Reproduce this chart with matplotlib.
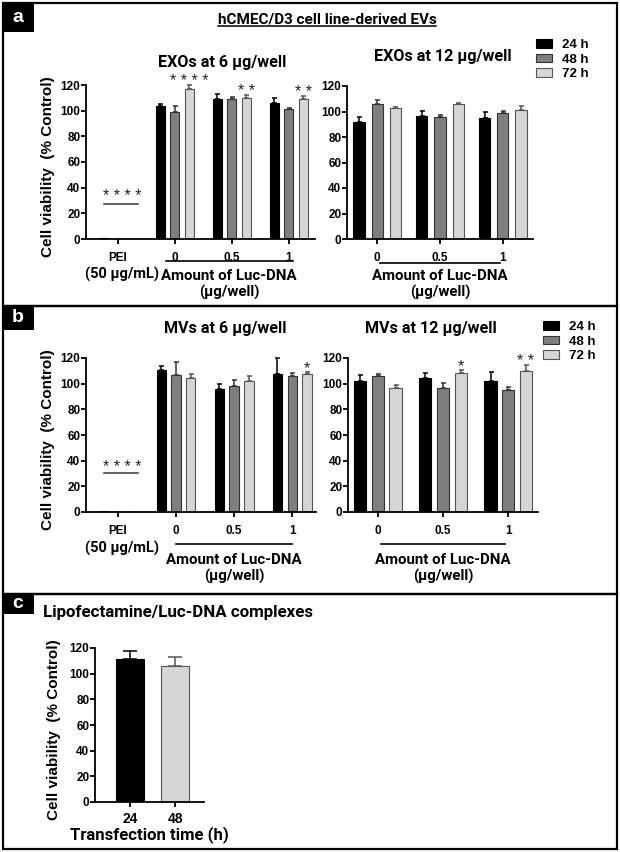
import matplotlib.pyplot as plt
import numpy as np
from matplotlib.patches import Rectangle, Patch
from matplotlib.lines import Line2D

W, H = 620, 852

TIMES = ['24 h', '48 h', '72 h']
DOSE_TICKS = ['0', '0.5', '1']
PEI_TICKS = ['PEI', '0', '0.5', '1']

# rows: 24 h, 48 h, 72 h ; columns: PEI, 0, 0.5, 1 (µg/well Luc-DNA)
exo6_mean = [[1.0, 103.7, 109.4, 105.8], [0.0, 99.2, 109.1, 101.3], [0.0, 116.7, 109.9, 109.4]]
exo6_err = [[0.0, 1.8, 3.9, 4.4], [0.0, 4.7, 1.3, 1.0], [0.0, 3.1, 2.1, 2.0]]
# rows: 24 h, 48 h, 72 h ; columns: 0, 0.5, 1
exo12_mean = [[91.4, 96.6, 95.1], [105.5, 95.6, 99.2], [103.1, 106.0, 101.3]]
exo12_err = [[4.4, 3.9, 4.9], [3.3, 1.8, 1.1], [0.8, 1.0, 3.4]]

mv6_mean = [[1.0, 110.3, 96.1, 107.2], [0.0, 106.7, 98.4, 105.7], [0.0, 104.7, 101.8, 107.8]]
mv6_err = [[0.0, 3.2, 3.6, 13.0], [0.0, 10.2, 4.4, 2.9], [0.0, 3.1, 4.1, 1.2]]
mv12_mean = [[102.0, 104.4, 101.8], [105.7, 96.9, 95.3], [96.6, 108.0, 110.1]]
mv12_err = [[5.0, 3.9, 7.2], [1.8, 3.3, 1.8], [2.3, 2.9, 4.2]]

lipo_times = ['24', '48']
lipo_mean = [111.8, 105.7]
lipo_err = [5.7, 6.9]

# significance marks: (group, series, label)
exo6_stars = [(1, 2, '****'), (2, 2, '**'), (3, 2, '**')]
mv6_stars = [(3, 2, '*')]
mv12_stars = [(1, 2, '*'), (2, 2, '**')]

FILLS = ['black', '#7f7f7f', '#d6d6d6']
EDGES = ['black', '#333333', '#555555']
ARIAL = ['Liberation Sans', 'DejaVu Sans']
CALI = ['Roboto', 'DejaVu Sans']
STAR_COLOR = '#222222'

fig = plt.figure(figsize=(W / 100, H / 100), dpi=100)


def fx(x):
    return x / W


def fy(y):
    return 1 - y / H


def add_axes(x0, y0, x1, y1):
    return fig.add_axes([fx(x0), fy(y1), (x1 - x0) / W, (y1 - y0) / H])


def draw_bars(ax, means, errs, offset, width, cap):
    n = len(means[0])
    for i in range(len(means)):
        x = np.arange(n) + (i - 1) * offset
        m = np.array(means[i])
        e = np.array(errs[i])
        ax.bar(x, m, width, color=FILLS[i], edgecolor=EDGES[i], linewidth=0.8, zorder=2)
        keep = e > 0
        ax.errorbar(x[keep], m[keep], yerr=[np.zeros(keep.sum()), e[keep]], fmt='none',
                    ecolor=EDGES[i], elinewidth=1.1, capsize=cap, capthick=1.1,
                    zorder=1, clip_on=False)


def stars_text(ax, x, y, lab):
    ax.text(x, y, ' '.join(lab), ha='center', va='baseline', fontsize=11.5,
            family=ARIAL, color=STAR_COLOR, clip_on=False)


def add_stars(ax, means, errs, offset, stars):
    for g, s, lab in stars:
        top = means[s][g] + errs[s][g]
        stars_text(ax, g + (s - 1) * offset, top - 0.8, lab)


def style_axes(ax, xlim, labels):
    ax.set_xlim(*xlim)
    ax.set_ylim(0, 120)
    ax.set_yticks(np.arange(0, 121, 20))
    ax.set_xticks(np.arange(len(labels)))
    ax.set_xticklabels(labels)
    for s in ('top', 'right'):
        ax.spines[s].set_visible(False)
    for s in ('left', 'bottom'):
        ax.spines[s].set_linewidth(1.3)
    ax.tick_params(axis='y', length=3.5, width=1.3, pad=0.5)
    ax.tick_params(axis='x', length=3.5, width=1.3, pad=6)
    for lab in ax.get_xticklabels() + ax.get_yticklabels():
        lab.set_family(ARIAL)
        lab.set_weight('bold')
        lab.set_fontsize(8.5)


def ylabel(ax, xpos):
    ax.set_ylabel('Cell viability  (% Control)', family=ARIAL, weight='bold', fontsize=11)
    ax.yaxis.set_label_coords(xpos, 0.47)


def pei_mark(ax, line_y, star_y):
    ax.plot([-0.245, 0.35], [line_y, line_y], color='#444444', lw=1.2, clip_on=False)
    stars_text(ax, 0.07, star_y, '****')


def dose_caption(ax, x0, x1, line_y, text_y):
    tr = ax.get_xaxis_transform()
    ax.plot([x0, x1], [line_y, line_y], color='black', lw=1.2, transform=tr, clip_on=False)
    ax.text((x0 + x1) / 2, text_y, 'Amount of Luc-DNA\n(µg/well)', transform=tr,
            ha='center', va='top', family=CALI, weight='bold', fontsize=10.8,
            linespacing=1.2)


def legend(ax, x, y):
    handles = [Patch(facecolor=FILLS[i], edgecolor=EDGES[i], linewidth=0.8) for i in range(3)]
    ax.legend(handles, TIMES, loc='upper left', bbox_to_anchor=(fx(x), fy(y)),
              bbox_transform=fig.transFigure, frameon=False, borderpad=0, borderaxespad=0,
              handlelength=1.25, handleheight=0.6, handletextpad=0.7, labelspacing=0.2,
              prop=dict(family=ARIAL, weight='bold', size=9.5))


# ---- panel a
ax = add_axes(86, 85, 315, 239)
draw_bars(ax, exo6_mean, exo6_err, 0.254, 0.16, 1.8)
style_axes(ax, (-0.56, 3.46), PEI_TICKS)
add_stars(ax, exo6_mean, exo6_err, 0.254, exo6_stars)
pei_mark(ax, 27.3, 29.3)
ylabel(ax, -0.135)
dose_caption(ax, 0.84, 3.07, -0.143, -0.195)
ax.text(0.07, -0.18, '(50 µg/mL)', transform=ax.get_xaxis_transform(), ha='center',
        va='top', family=CALI, weight='bold', fontsize=10.5)

ax = add_axes(347, 86, 533, 239)
draw_bars(ax, exo12_mean, exo12_err, 0.29, 0.18, 1.8)
style_axes(ax, (-0.48, 2.48), DOSE_TICKS)
dose_caption(ax, 0.05, 1.95, -0.156, -0.195)
legend(ax, 536, 39)

# ---- panel b
ax = add_axes(86, 358, 316, 512)
draw_bars(ax, mv6_mean, mv6_err, 0.254, 0.16, 1.8)
style_axes(ax, (-0.55, 3.41), PEI_TICKS)
add_stars(ax, mv6_mean, mv6_err, 0.254, mv6_stars)
pei_mark(ax, 30.1, 31.1)
ylabel(ax, -0.135)
dose_caption(ax, 1.0, 3.0, -0.205, -0.265)
ax.text(0.07, -0.19, '(50 µg/mL)', transform=ax.get_xaxis_transform(), ha='center',
        va='top', family=CALI, weight='bold', fontsize=10.5)

ax = add_axes(348, 358, 538, 512)
draw_bars(ax, mv12_mean, mv12_err, 0.27, 0.185, 1.8)
style_axes(ax, (-0.46, 2.46), DOSE_TICKS)
add_stars(ax, mv12_mean, mv12_err, 0.27, mv12_stars)
dose_caption(ax, 0.05, 1.95, -0.205, -0.265)
legend(ax, 543, 321)

# ---- panel c
ax = add_axes(95, 648, 204, 802)
lipo_colors = [0, 2]
for k, ci in enumerate(lipo_colors):
    ax.bar(k, lipo_mean[k], 0.62, color=FILLS[ci], edgecolor=EDGES[ci], linewidth=0.8, zorder=2)
    ax.errorbar(k, lipo_mean[k], yerr=[[0], [lipo_err[k]]], fmt='none', ecolor=EDGES[ci],
                elinewidth=1.1, capsize=5, capthick=1.1, zorder=1)
style_axes(ax, (-0.78, 1.64), lipo_times)
ax.tick_params(axis='x', pad=4)
for lab in ax.get_xticklabels():
    lab.set_fontsize(10)
ylabel(ax, -0.31)
ax.set_xlabel('Transfection time (h)', family=CALI, weight='bold', fontsize=12, labelpad=0)

# ---- titles
TITLE = dict(ha='center', va='center', family=CALI, weight='bold', fontsize=11.6)
fig.text(fx(222), fy(63), 'EXOs at 6 µg/well', **TITLE)
fig.text(fx(443), fy(57), 'EXOs at 12 µg/well', **TITLE)
fig.text(fx(225), fy(328), 'MVs at 6 µg/well', **TITLE)
fig.text(fx(431), fy(329), 'MVs at 12 µg/well', **TITLE)
fig.text(fx(178), fy(613), 'Lipofectamine/Luc-DNA complexes', ha='center', va='center',
         family=CALI, weight='bold', fontsize=12.2)
sup = fig.text(fx(327), fy(20), 'hCMEC/D3 cell line-derived EVs', ha='center', va='center',
               family=CALI, weight='bold', fontsize=11)

# underline of the panel a heading
fig.canvas.draw()
bb = sup.get_window_extent().transformed(fig.transFigure.inverted())
fig.add_artist(Line2D([bb.x0, bb.x1], [bb.y0 + 0.001, bb.y0 + 0.001], color='black', lw=1.1,
                      transform=fig.transFigure))

# ---- panel frames and letters
for (top, bot, letter, box_bot) in [(3, 306, 'a', 32), (306, 594, 'b', 330), (594, 849, 'c', 614)]:
    fig.add_artist(Rectangle((fx(3), fy(bot)), fx(614), (bot - top) / H, fill=False,
                             edgecolor='black', lw=1.6, transform=fig.transFigure))
    fig.add_artist(Rectangle((fx(3), fy(box_bot)), fx(31), (box_bot - top) / H,
                             facecolor='black', edgecolor='black', lw=0, transform=fig.transFigure))
    fig.text(fx(18), fy((top + box_bot) / 2), letter, ha='center', va='center', color='white',
             family=ARIAL, weight='bold', fontsize=14)

fig.savefig('out.png', dpi=100, facecolor='white')
